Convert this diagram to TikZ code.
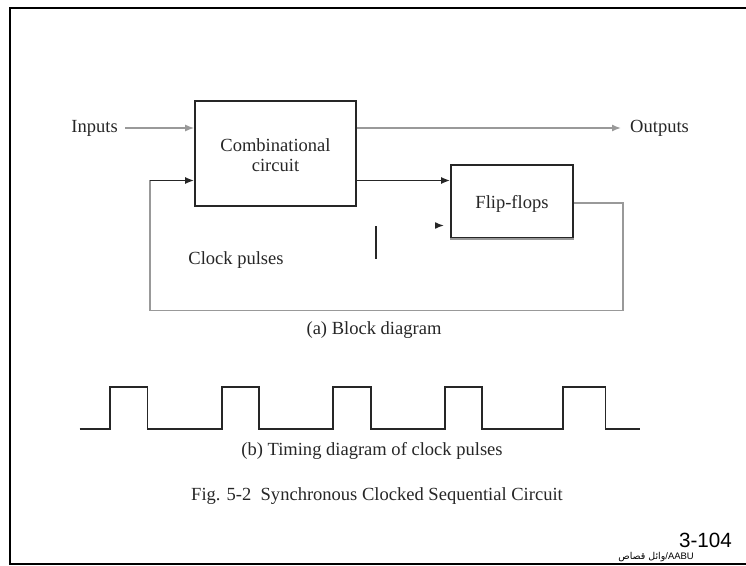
\documentclass[tikz,border=0pt]{standalone}
\usepackage{fontspec}
\setmainfont{Liberation Serif}
\newfontfamily\arialfont{Liberation Sans}
\newfontfamily\arabicfont[Script=Arabic]{DejaVu Sans}
\TeXXeTstate=1
\usetikzlibrary{arrows.meta}
\begin{document}
\begin{tikzpicture}[x=1bp,y=-1bp,
  lbl/.style={font=\fontsize{18.6}{21}\selectfont, text=black!85, inner sep=0pt},
  blk/.style={draw=black!85, line width=1.7bp, inner sep=0pt},
  dark/.style={draw=black!85, line width=1.6bp},
  grey/.style={draw=black!40, line width=1.4bp},
  tip/.style={-{Latex[length=9bp,width=7bp]}},
  frame/.style={draw=black, line width=2.6bp}]
\useasboundingbox (0,0) rectangle (746,566);

% slide frame (open on the right)
\draw[frame] (746,8) -- (10,8) -- (10,564) -- (746,564);

% blocks
\node[blk, minimum width=161bp, minimum height=105bp] (comb) at (275.5,153.5) {};
\node[lbl, align=center] (combtxt) at (275.5,155) {Combinational\\[-1pt]circuit};
\node[blk, minimum width=122bp, minimum height=73bp] (ff) at (512,201.5) {};
\node[lbl] (fftxt) at (512,204) {Flip-flops};
\draw[grey] (ff.south west) -- (ff.south east);

% labels
\node[lbl, anchor=east] (inp) at (118,128) {Inputs};
\node[lbl, anchor=west] (outp) at (630,128) {Outputs};
\node[lbl] (clk) at (236,260) {Clock pulses};
\node[lbl] (capa) at (374,330) {(a) Block diagram};
\node[lbl] (capb) at (372,451) {(b) Timing diagram of clock pulses};
\node[lbl] (fig) at (377,496) {Fig. 5-2\ \ Synchronous Clocked Sequential Circuit};

% connectors
\coordinate (inA) at (125,128);
\coordinate (outB) at (621,128);
\coordinate (fbL) at (150,180.5);
\coordinate (fbBL) at (150,310.5);
\coordinate (fbBR) at (623,310.5);
\coordinate (fbTR) at (623,203);
\coordinate (clkA) at (438,225.5);
\coordinate (clkT) at (376,226);
\coordinate (clkB) at (376,259);

\draw[grey, tip] (inA) -- (inA -| comb.west);
\draw[grey, tip] (comb.east |- outB) -- (outB);
\draw[dark, tip] (comb.east |- fbL) -- (ff.west |- fbL);
\draw[grey] (ff.east |- fbTR) -- (fbTR) -- (fbBR) -- (fbBL) -- (fbL);
\draw[dark, tip] (fbL) -- (comb.west |- fbL);
\draw[dark, tip] (clkA) -- ++(6,0);
\draw[dark, line width=1.2bp] (clkT) -- (clkB);

% clock waveform
\draw[draw=black!85, line width=1.8bp] (79.5,429) coordinate (w0)
  -- (110,429) -- (110,387) -- (147.5,387) -- (147.5,429)
  -- (222,429) -- (222,387) -- (259,387) -- (259,429)
  -- (333,429) -- (333,387) -- (371,387) -- (371,429)
  -- (445,429) -- (445,387) -- (482,387) -- (482,429)
  -- (563,429) -- (563,387) -- (605.5,387) -- (605.5,429)
  -- (640,429) coordinate (w1);

% page number and credit
\node[font=\arialfont\fontsize{20.7}{22}\selectfont, inner sep=0pt, anchor=base east] (pg) at (732,547) {3-104};
\node[font=\fontsize{9.5}{10}\selectfont, inner sep=0pt, anchor=base east] (credit) at (694,559) {{\arabicfont\beginR وائل قصاص\endR}{\arialfont/AABU}};
\end{tikzpicture}
\end{document}
